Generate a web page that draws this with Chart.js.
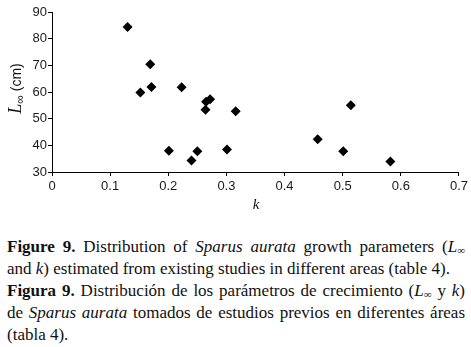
<!DOCTYPE html>
<html>
<head>
<meta charset="utf-8">
<script src="https://cdn.jsdelivr.net/npm/chart.js@4"></script>
<style>
  html, body { margin: 0; padding: 0; background: #fff; }
  body { width: 471px; height: 347px; position: relative; overflow: hidden; }
  #chartBox { position: absolute; left: 0; top: 0; width: 471px; height: 230px; }
  #cap {
    position: absolute; left: 7px; top: 236px; width: 458px;
    font-family: "Liberation Serif", "Times New Roman", serif;
    font-size: 17px; line-height: 22px; color: #111;
  }
  #cap .j { text-align: justify; text-align-last: justify; white-space: nowrap; }
  #cap sub { font-size: 11px; vertical-align: -2px; line-height: 0; }
</style>
</head>
<body>
<div id="chartBox"><canvas id="chart" width="471" height="230"></canvas></div>
<div id="cap">
  <div class="j"><b>Figure 9.</b> Distribution of <i>Sparus aurata</i> growth parameters (<i>L</i><sub>∞</sub></div>
  <div>and <i>k</i>) estimated from existing studies in different areas (table 4).</div>
  <div class="j"><b>Figura 9.</b> Distribución de los parámetros de crecimiento (<i>L</i><sub>∞</sub> y <i>k</i>)</div>
  <div class="j">de <i>Sparus aurata</i> tomados de estudios previos en diferentes áreas</div>
  <div>(tabla 4).</div>
</div>
<script>
// growth parameters
const kValues    = [0.13, 0.169, 0.171, 0.152, 0.223, 0.264, 0.265, 0.272, 0.316, 0.201, 0.240, 0.250, 0.301, 0.514, 0.457, 0.501, 0.582];
const lInfValues = [84.4, 70.4,  61.9,  59.8,  61.8,  53.3,  56.3,  57.3,  52.8,  38.0,  34.3,  37.8,  38.4,  55.0,  42.3,  37.8,  33.9];

const xMin = 0, xMax = 0.7, xStep = 0.1;
const yMin = 30, yMax = 90, yStep = 10;

const points = kValues.map((k, i) => ({ x: k, y: lInfValues[i] }));

// axis titles with italic L, subscript infinity and italic k
const axisTitles = {
  id: 'axisTitles',
  afterDraw(chart) {
    const ctx = chart.ctx;
    const area = chart.chartArea;
    ctx.save();
    ctx.fillStyle = '#111';
    ctx.textBaseline = 'alphabetic';

    // y title
    const parts = [
      { t: 'L', f: 'italic 18px "Liberation Serif", serif', dy: 0 },
      { t: '∞', f: '12px "Liberation Sans", Arial, sans-serif', dy: 3 },
      { t: ' (cm)', f: '14px "Liberation Sans", Arial, sans-serif', dy: 0 }
    ];
    let total = 0;
    parts.forEach(p => { ctx.font = p.f; p.w = ctx.measureText(p.t).width; total += p.w; });
    ctx.translate(21, 88.5);
    ctx.rotate(-Math.PI / 2);
    let x = -total / 2;
    parts.forEach(p => { ctx.font = p.f; ctx.fillText(p.t, x, p.dy); x += p.w; });
    ctx.restore();

    // x title
    ctx.save();
    ctx.fillStyle = '#111';
    ctx.font = 'italic 15px "Liberation Serif", serif';
    ctx.textAlign = 'center';
    ctx.textBaseline = 'middle';
    ctx.fillText('k', (area.left + area.right) / 2 + 0.5, 205);
    ctx.restore();
  }
};

new Chart(document.getElementById('chart'), {
  type: 'scatter',
  data: {
    datasets: [{
      data: points,
      pointStyle: 'rectRot',
      pointRadius: 5,
      backgroundColor: '#000',
      borderColor: '#000',
      borderWidth: 0
    }]
  },
  options: {
    responsive: false,
    animation: false,
    layout: { padding: { top: 12, right: 10, left: 0, bottom: 0 } },
    plugins: {
      legend: { display: false },
      tooltip: { enabled: false }
    },
    scales: {
      x: {
        type: 'linear',
        min: xMin,
        max: xMax,
        afterFit: s => { s.height = 58; },
        ticks: {
          stepSize: xStep,
          padding: 3,
          color: '#1a1a1a',
          font: { family: '"Liberation Sans", Arial, sans-serif', size: 13 },
          callback: v => String(Number(v.toFixed(1)))
        },
        grid: { drawOnChartArea: false, drawTicks: true, tickLength: 4, color: '#000' },
        border: { display: true, color: '#000', width: 1 }
      },
      y: {
        type: 'linear',
        min: yMin,
        max: yMax,
        afterFit: s => { s.width = 52; },
        ticks: {
          stepSize: yStep,
          padding: 1,
          color: '#1a1a1a',
          font: { family: '"Liberation Sans", Arial, sans-serif', size: 13 }
        },
        grid: { drawOnChartArea: false, drawTicks: true, tickLength: 4, color: '#000' },
        border: { display: true, color: '#000', width: 1 }
      }
    }
  },
  plugins: [axisTitles]
});
</script>
</body>
</html>
